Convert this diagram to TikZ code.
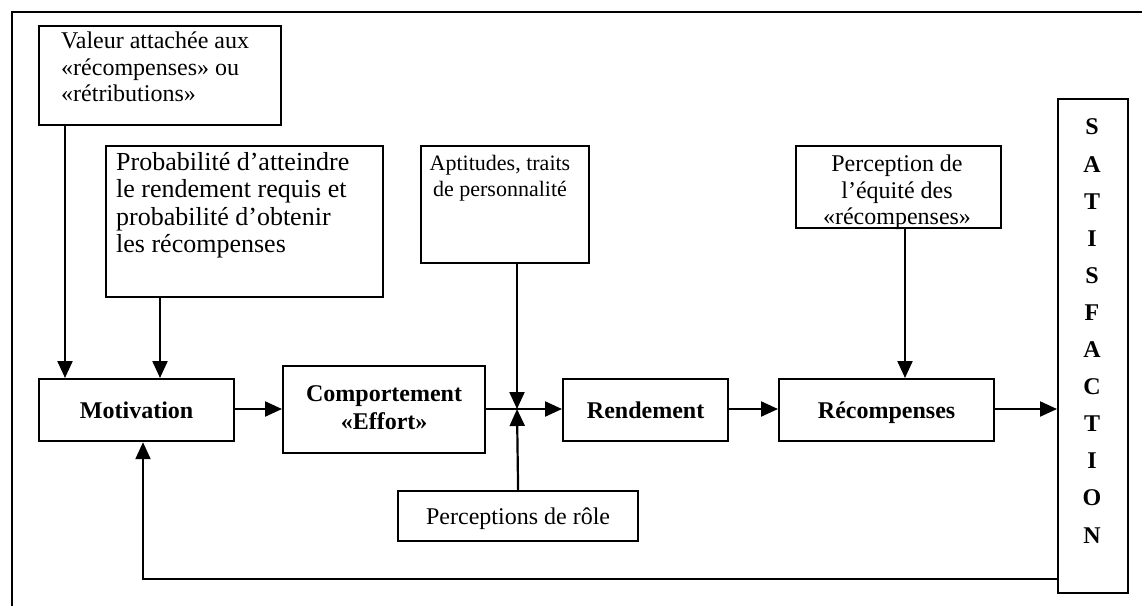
\documentclass[tikz,border=0pt]{standalone}
\usepackage{fontspec}
\setmainfont{Liberation Serif}
\usetikzlibrary{arrows.meta}
\begin{document}
\begin{tikzpicture}[x=1pt,y=-1pt,
  box/.style={draw, line width=2.2pt, inner sep=0pt, anchor=north west},
  txt/.style={inner sep=0pt, font=\fontsize{24}{26.5}\selectfont},
  btxt/.style={inner sep=0pt, font=\fontsize{24}{28}\selectfont\bfseries, align=center},
  arr/.style={line width=2.2pt, -{Triangle[length=17pt,width=15pt]}},
  frame/.style={line width=1.8pt}]
\useasboundingbox (0,0) rectangle (1142,606);
% outer frame (cropped)
\coordinate (ftr) at (1142,12);
\coordinate (ftl) at (12,12);
\coordinate (fbl) at (12,606);
\draw[frame] (ftr) -- (ftl) -- (fbl);

% boxes
\node[box, minimum width=242pt, minimum height=99pt] (valeur) at (38,25) {};
\node[txt, anchor=north west, align=left] (valeurT) at (61,32)
  {Valeur attachée aux\\«récompenses» ou\\«rétributions»};

\node[box, minimum width=277pt, minimum height=151pt] (prob) at (105,145) {};
\node[txt, font=\fontsize{26}{27.5}\selectfont, anchor=north west, align=left] (probT) at (116,152)
  {Probabilité d’atteindre\\le rendement requis et\\probabilité d’obtenir\\les récompenses};

\node[box, minimum width=168pt, minimum height=117pt] (apt) at (420,145) {};
\node[txt, font=\fontsize{22}{26}\selectfont, anchor=north, align=center] (aptT) at (500,155)
  {Aptitudes, traits\\de personnalité};

\node[box, minimum width=205pt, minimum height=82pt] (equite) at (795,145) {};
\node[txt, anchor=north, align=center] (equiteT) at (897,155)
  {Perception de\\l’équité des\\«récompenses»};

\node[box, minimum width=195pt, minimum height=62pt] (motiv) at (38,378) {};
\node[btxt, anchor=base] (motivT) at ([yshift=-8pt]motiv.center) {Motivation};

\node[box, minimum width=202pt, minimum height=87pt] (comp) at (282,365) {};
\node[btxt] (compT) at ([yshift=2pt]comp.center) {Comportement\\«Effort»};

\node[box, minimum width=165pt, minimum height=62pt] (rend) at (562,378) {};
\node[btxt, anchor=base] (rendT) at ([yshift=-8pt]rend.center) {Rendement};

\node[box, minimum width=215pt, minimum height=62pt] (recomp) at (778,378) {};
\node[btxt, anchor=base] (recompT) at ([yshift=-8pt]recomp.center) {Récompenses};

\node[box, minimum width=240pt, minimum height=50pt] (role) at (397,490) {};
\node[txt, anchor=base] (roleT) at ([yshift=-8pt]role.center) {Perceptions de rôle};

\node[box, minimum width=70pt, minimum height=494pt] (satis) at (1057,98) {};
\node[font=\fontsize{24}{37.1}\selectfont\bfseries, align=center, inner sep=0pt] (satisT) at (1092,331)
  {S\\A\\T\\I\\S\\F\\A\\C\\T\\I\\O\\N};

% helper coordinates
\coordinate (jn) at (517,409);
\coordinate (vx) at (65,0);
\coordinate (px) at (160,0);
\coordinate (ex) at (905,0);
\coordinate (fb) at (143,579);

% connectors
\draw[arr] (valeur.south -| vx) -- (motiv.north -| vx);
\draw[arr] (prob.south -| px) -- (motiv.north -| px);
\draw[arr] (motiv.east |- jn) -- (comp.west |- jn);
\draw[arr] (comp.east |- jn) -- (rend.west |- jn);
\draw[arr] (apt.south -| jn) -- (jn);
\draw[arr] (role.north) -- (jn);
\draw[arr] (rend.east |- jn) -- (recomp.west |- jn);
\draw[arr] (equite.south -| ex) -- (recomp.north -| ex);
\draw[arr] (recomp.east |- jn) -- (satis.west |- jn);
\draw[arr] (satis.west |- fb) -- (fb) -- (motiv.south -| fb);
\end{tikzpicture}
\end{document}
